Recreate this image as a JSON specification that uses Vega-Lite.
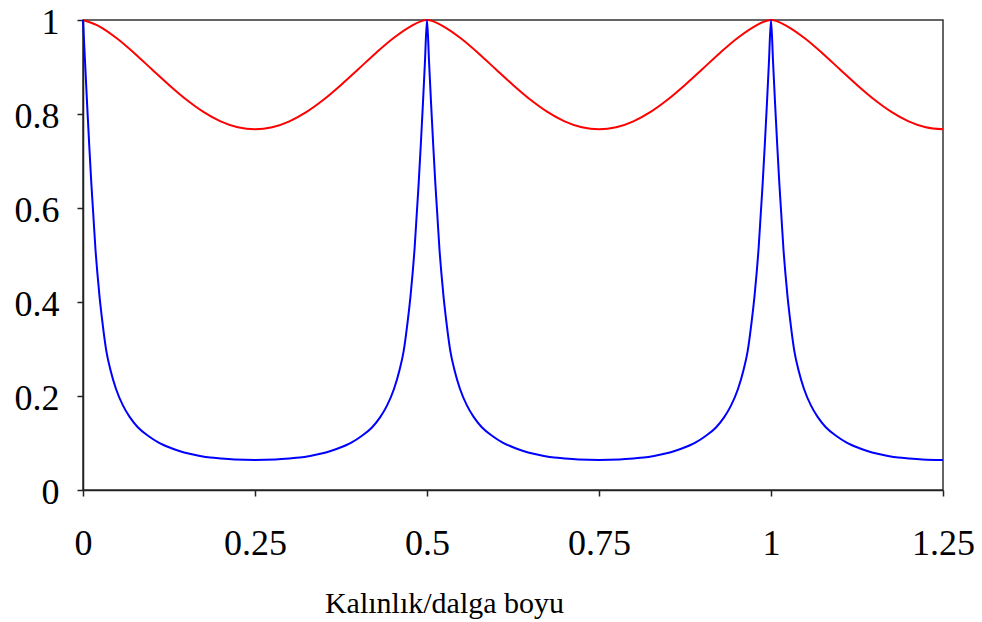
{
  "$schema": "https://vega.github.io/schema/vega-lite/v6.json",
  "width": 860,
  "height": 470,
  "autosize": {"type": "none"},
  "padding": {"left": 83, "top": 20, "right": 39, "bottom": 132},
  "background": "white",
  "view": {"stroke": "#333333", "strokeWidth": 1.5},
  "config": {
    "font": "Liberation Serif",
    "axis": {
      "grid": false,
      "domainColor": "#222222",
      "domainWidth": 1.5,
      "tickColor": "#222222",
      "tickWidth": 1.5,
      "tickSize": 6,
      "labelFont": "Liberation Serif",
      "labelColor": "#000000",
      "labelFontSize": 36,
      "labelFlush": false,
      "titleFont": "Liberation Serif",
      "titleColor": "#000000",
      "titleFontWeight": "normal"
    }
  },
  "datasets": {
    "red": [
      {"x": 0, "t": 1}, {"x": 0.025, "t": 0.9856}, {"x": 0.05, "t": 0.9601}, {"x": 0.075, "t": 0.9289}, {"x": 0.1, "t": 0.8952}, {"x": 0.125, "t": 0.8618}, {"x": 0.15, "t": 0.8308}, {"x": 0.175, "t": 0.8045}, {"x": 0.2, "t": 0.7844}, {"x": 0.225, "t": 0.7718}, {"x": 0.25, "t": 0.7675},
      {"x": 0.275, "t": 0.7718}, {"x": 0.3, "t": 0.7844}, {"x": 0.325, "t": 0.8045}, {"x": 0.35, "t": 0.8308}, {"x": 0.375, "t": 0.8618}, {"x": 0.4, "t": 0.8952}, {"x": 0.425, "t": 0.9289}, {"x": 0.45, "t": 0.9601}, {"x": 0.475, "t": 0.9856}, {"x": 0.5, "t": 1},
      {"x": 0.525, "t": 0.9856}, {"x": 0.55, "t": 0.9601}, {"x": 0.575, "t": 0.9289}, {"x": 0.6, "t": 0.8952}, {"x": 0.625, "t": 0.8618}, {"x": 0.65, "t": 0.8308}, {"x": 0.675, "t": 0.8045}, {"x": 0.7, "t": 0.7844}, {"x": 0.725, "t": 0.7718}, {"x": 0.75, "t": 0.7675},
      {"x": 0.775, "t": 0.7718}, {"x": 0.8, "t": 0.7844}, {"x": 0.825, "t": 0.8045}, {"x": 0.85, "t": 0.8308}, {"x": 0.875, "t": 0.8618}, {"x": 0.9, "t": 0.8952}, {"x": 0.925, "t": 0.9289}, {"x": 0.95, "t": 0.9601}, {"x": 0.975, "t": 0.9856}, {"x": 1, "t": 1},
      {"x": 1.025, "t": 0.9856}, {"x": 1.05, "t": 0.9601}, {"x": 1.075, "t": 0.9289}, {"x": 1.1, "t": 0.8952}, {"x": 1.125, "t": 0.8618}, {"x": 1.15, "t": 0.8308}, {"x": 1.175, "t": 0.8045}, {"x": 1.2, "t": 0.7844}, {"x": 1.225, "t": 0.7718}, {"x": 1.25, "t": 0.7675}
    ],
    "blue": [
      {"x": 0, "t": 1}, {"x": 0.003, "t": 0.91}, {"x": 0.006, "t": 0.82}, {"x": 0.009, "t": 0.735}, {"x": 0.012, "t": 0.655}, {"x": 0.015, "t": 0.585}, {"x": 0.018, "t": 0.515}, {"x": 0.021, "t": 0.46}, {"x": 0.024, "t": 0.412}, {"x": 0.028, "t": 0.36}, {"x": 0.034, "t": 0.295}, {"x": 0.04, "t": 0.255}, {"x": 0.048, "t": 0.215}, {"x": 0.058, "t": 0.18}, {"x": 0.068, "t": 0.155}, {"x": 0.08, "t": 0.133}, {"x": 0.095, "t": 0.115}, {"x": 0.11, "t": 0.101}, {"x": 0.125, "t": 0.091}, {"x": 0.14, "t": 0.083}, {"x": 0.155, "t": 0.077}, {"x": 0.17, "t": 0.0725}, {"x": 0.185, "t": 0.069}, {"x": 0.2, "t": 0.067}, {"x": 0.22, "t": 0.065}, {"x": 0.25, "t": 0.064},
      {"x": 0.28, "t": 0.065}, {"x": 0.3, "t": 0.067}, {"x": 0.315, "t": 0.069}, {"x": 0.33, "t": 0.0725}, {"x": 0.345, "t": 0.077}, {"x": 0.36, "t": 0.083}, {"x": 0.375, "t": 0.091}, {"x": 0.39, "t": 0.101}, {"x": 0.405, "t": 0.115}, {"x": 0.42, "t": 0.133}, {"x": 0.432, "t": 0.155}, {"x": 0.442, "t": 0.18}, {"x": 0.452, "t": 0.215}, {"x": 0.46, "t": 0.255}, {"x": 0.466, "t": 0.295}, {"x": 0.472, "t": 0.36}, {"x": 0.476, "t": 0.412}, {"x": 0.479, "t": 0.46}, {"x": 0.482, "t": 0.515}, {"x": 0.485, "t": 0.585}, {"x": 0.488, "t": 0.655}, {"x": 0.491, "t": 0.735}, {"x": 0.494, "t": 0.82}, {"x": 0.497, "t": 0.91}, {"x": 0.5, "t": 1},
      {"x": 0.503, "t": 0.91}, {"x": 0.506, "t": 0.82}, {"x": 0.509, "t": 0.735}, {"x": 0.512, "t": 0.655}, {"x": 0.515, "t": 0.585}, {"x": 0.518, "t": 0.515}, {"x": 0.521, "t": 0.46}, {"x": 0.524, "t": 0.412}, {"x": 0.528, "t": 0.36}, {"x": 0.534, "t": 0.295}, {"x": 0.54, "t": 0.255}, {"x": 0.548, "t": 0.215}, {"x": 0.558, "t": 0.18}, {"x": 0.568, "t": 0.155}, {"x": 0.58, "t": 0.133}, {"x": 0.595, "t": 0.115}, {"x": 0.61, "t": 0.101}, {"x": 0.625, "t": 0.091}, {"x": 0.64, "t": 0.083}, {"x": 0.655, "t": 0.077}, {"x": 0.67, "t": 0.0725}, {"x": 0.685, "t": 0.069}, {"x": 0.7, "t": 0.067}, {"x": 0.72, "t": 0.065}, {"x": 0.75, "t": 0.064},
      {"x": 0.78, "t": 0.065}, {"x": 0.8, "t": 0.067}, {"x": 0.815, "t": 0.069}, {"x": 0.83, "t": 0.0725}, {"x": 0.845, "t": 0.077}, {"x": 0.86, "t": 0.083}, {"x": 0.875, "t": 0.091}, {"x": 0.89, "t": 0.101}, {"x": 0.905, "t": 0.115}, {"x": 0.92, "t": 0.133}, {"x": 0.932, "t": 0.155}, {"x": 0.942, "t": 0.18}, {"x": 0.952, "t": 0.215}, {"x": 0.96, "t": 0.255}, {"x": 0.966, "t": 0.295}, {"x": 0.972, "t": 0.36}, {"x": 0.976, "t": 0.412}, {"x": 0.979, "t": 0.46}, {"x": 0.982, "t": 0.515}, {"x": 0.985, "t": 0.585}, {"x": 0.988, "t": 0.655}, {"x": 0.991, "t": 0.735}, {"x": 0.994, "t": 0.82}, {"x": 0.997, "t": 0.91}, {"x": 1, "t": 1},
      {"x": 1.003, "t": 0.91}, {"x": 1.006, "t": 0.82}, {"x": 1.009, "t": 0.735}, {"x": 1.012, "t": 0.655}, {"x": 1.015, "t": 0.585}, {"x": 1.018, "t": 0.515}, {"x": 1.021, "t": 0.46}, {"x": 1.024, "t": 0.412}, {"x": 1.028, "t": 0.36}, {"x": 1.034, "t": 0.295}, {"x": 1.04, "t": 0.255}, {"x": 1.048, "t": 0.215}, {"x": 1.058, "t": 0.18}, {"x": 1.068, "t": 0.155}, {"x": 1.08, "t": 0.133}, {"x": 1.095, "t": 0.115}, {"x": 1.11, "t": 0.101}, {"x": 1.125, "t": 0.091}, {"x": 1.14, "t": 0.083}, {"x": 1.155, "t": 0.077}, {"x": 1.17, "t": 0.0725}, {"x": 1.185, "t": 0.069}, {"x": 1.2, "t": 0.067}, {"x": 1.22, "t": 0.065}, {"x": 1.25, "t": 0.064}
    ]
  },
  "layer": [
    {
      "data": {"name": "red"},
      "mark": {"type": "line", "color": "#ff0000", "strokeWidth": 2, "interpolate": "monotone"},
      "encoding": {
        "x": {
          "field": "x",
          "type": "quantitative",
          "scale": {"domain": [0, 1.25], "nice": false, "zero": false},
          "axis": {
            "values": [0, 0.25, 0.5, 0.75, 1, 1.25],
            "format": ".3~g",
            "labelBaseline": "alphabetic",
            "labelPadding": 58,
            "title": "Kalınlık/dalga boyu",
            "titleFontSize": 30,
            "titleX": 361,
            "titleY": 122,
            "titleBaseline": "alphabetic",
            "titleAnchor": "middle",
            "titleAlign": "center"
          }
        },
        "y": {
          "field": "t",
          "type": "quantitative",
          "scale": {"domain": [0, 1], "nice": false},
          "axis": {
            "values": [0, 0.2, 0.4, 0.6, 0.8, 1],
            "format": ".2~g",
            "labelPadding": 18,
            "labelOffset": 2,
            "title": null
          }
        }
      }
    },
    {
      "data": {"name": "blue"},
      "mark": {"type": "line", "color": "#0000ff", "strokeWidth": 2, "interpolate": "monotone"},
      "encoding": {
        "x": {"field": "x", "type": "quantitative"},
        "y": {"field": "t", "type": "quantitative"}
      }
    }
  ]
}
